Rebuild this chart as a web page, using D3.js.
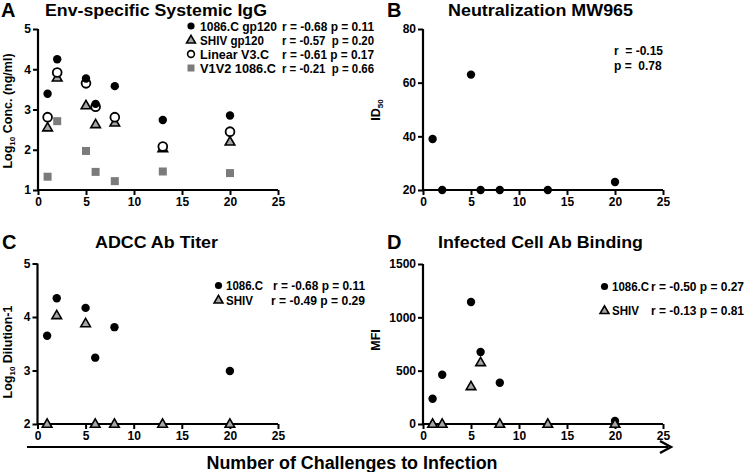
<!DOCTYPE html>
<html><head><meta charset="utf-8">
<script src="https://cdn.jsdelivr.net/npm/d3@7"></script>
<style>
body{margin:0;background:#fff;}
text{font-family:"Liberation Sans",Arial,sans-serif;font-weight:bold;fill:#000;}
</style></head>
<body><svg id="c" width="750" height="472"></svg>
<script>
// ---------- data ----------
const challenges = [1, 2, 5, 6, 8, 13, 20];
const xTicks = [0, 5, 10, 15, 20, 25];

// Panel A: Env-specific systemic IgG (log10 ng/ml)
const igg1086 = [3.39, 4.25, 3.77, 3.14, 3.58, 2.74, 2.85];
const iggShiv = [2.55, 3.79, 3.10, 2.63, 2.67, 2.03, 2.20];
const iggV3 = [2.81, 3.92, 3.65, 3.07, 2.81, 2.08, 2.45];
const iggV1V2 = [1.33, 2.71, 1.97, 1.45, 1.22, 1.46, 1.42];
const aTicks = [1, 2, 3, 4, 5];

// Panel B: Neutralization MW965 (ID50)
const neutMW965 = [39, 20, 63, 20, 20, 20, 23];
const bTicks = [20, 40, 60, 80];

// Panel C: ADCC Ab titer (log10 dilution-1)
const adcc1086 = [3.65, 4.35, 4.17, 3.24, 3.81, null, 2.99];
const adccShiv = [2, 4.03, 3.88, 2, 2, 2, 2];
const cTicks = [2, 3, 4, 5];

// Panel D: Infected cell Ab binding (MFI)
const mfi1086 = [237, 462, 1144, 675, 387, null, 28];
const mfiShiv = [0, 0, 353, 578, 0, 0, 0];
const dTicks = [0, 500, 1000, 1500];

// ---------- drawing ----------
const svg = d3.select("#c");
const greyFill = "#a6a6a6", squareFill = "#7b7b7b";
const FONT = '"Liberation Sans",Arial,sans-serif';

function panel(o) {
  const x = d3.scaleLinear().domain([0, 25]).range(o.xr);
  const y = d3.scaleLinear().domain(o.yd).range(o.yr);
  const g = svg.append("g");
  const ax = g.append("g").attr("transform", `translate(0,${o.yr[0]})`)
    .call(d3.axisBottom(x).tickValues(xTicks).tickFormat(d3.format("d")).tickSize(5).tickPadding(2));
  const ay = g.append("g").attr("transform", `translate(${o.xr[0]},0)`)
    .call(d3.axisLeft(y).tickValues(o.yt).tickFormat(d3.format("d")).tickSize(5).tickPadding(2));
  [ax, ay].forEach(a => {
    a.select(".domain").attr("stroke", "#000").attr("stroke-width", 2.2)
      .attr("d", a === ax ? `M${o.xr[0]},0H${o.xr[1]}` : `M0,${o.yr[0]}V${o.yr[1]}`);
    a.selectAll(".tick line").attr("stroke", "#000").attr("stroke-width", 2);
    a.selectAll(".tick text").attr("font-size", 12).attr("font-weight", "bold")
      .attr("font-family", FONT).attr("fill", "#000");
  });
  // letter, title
  g.append("text").attr("x", o.letterX).attr("y", o.titleY + 1).attr("font-size", 20).text(o.letter);
  g.append("text").attr("x", o.titleX).attr("y", o.titleY).attr("font-size", 17)
    .attr("text-anchor", "middle").attr("textLength", o.titleW).attr("lengthAdjust", "spacingAndGlyphs").text(o.title);
  // y label
  const yl = g.append("text").attr("transform", `translate(${o.ylX},${o.ylY}) rotate(-90)`)
    .attr("font-size", 12.5).attr("text-anchor", "middle");
  o.ylabel.forEach(p => {
    const t = yl.append("tspan").text(p.t);
    if (p.sub) t.attr("font-size", 8).attr("dy", 3);
    else if (p.after) t.attr("dy", -3);
  });
  return {g, x, y};
}

function circles(p, vals, fill, r) {
  p.g.append("g").selectAll("circle").data(challenges.map((c, i) => [c, vals[i]]).filter(d => d[1] != null))
    .join("circle").attr("cx", d => p.x(d[0])).attr("cy", d => p.y(d[1])).attr("r", r || 4.2)
    .attr("fill", fill).attr("stroke", "#000").attr("stroke-width", fill === "#fff" ? 1.8 : 0);
}
const triSym = d3.symbol().type(d3.symbolTriangle).size(40);
function triangles(p, vals) {
  p.g.append("g").selectAll("path").data(challenges.map((c, i) => [c, vals[i]]).filter(d => d[1] != null))
    .join("path").attr("d", triSym)
    .attr("transform", d => `translate(${p.x(d[0])},${p.y(d[1]) + 0.5})`)
    .attr("fill", greyFill).attr("stroke", "#000").attr("stroke-width", 1.6);
}
function squares(p, vals) {
  p.g.append("g").selectAll("rect").data(challenges.map((c, i) => [c, vals[i]]))
    .join("rect").attr("x", d => p.x(d[0]) - 4).attr("y", d => p.y(d[1]) - 4)
    .attr("width", 8).attr("height", 8).attr("fill", squareFill);
}
function legendText(g, x, y, s, w) {
  const t = g.append("text").attr("x", x).attr("y", y).attr("font-size", 12)
    .attr("xml:space", "preserve").style("white-space", "pre").text(s);
  if (w) t.attr("textLength", w).attr("lengthAdjust", "spacingAndGlyphs");
}
function legTri(g, x, y) {
  g.append("path").attr("d", d3.symbol().type(d3.symbolTriangle).size(34)).attr("transform", `translate(${x},${y})`)
    .attr("fill", greyFill).attr("stroke", "#000").attr("stroke-width", 1.6);
}

// Panel A
const pA = panel({xr: [38, 278], yr: [190, 29], yd: [1, 5], yt: aTicks, letter: "A", letterX: 1, titleX: 156, titleY: 16, titleW: 222,
  title: "Env-specific Systemic IgG", ylX: 12, ylY: 111,
  ylabel: [{t: "Log"}, {t: "10", sub: true}, {t: " Conc. (ng/ml)", after: true}]});
squares(pA, iggV1V2);
triangles(pA, iggShiv);
circles(pA, iggV3, "#fff", 4.4);
circles(pA, igg1086, "#000");
{
  const g = pA.g, mx = 191, rows = [26, 40, 54, 68];
  g.append("circle").attr("cx", mx).attr("cy", rows[0]).attr("r", 3.6).attr("fill", "#000");
  legTri(g, mx, rows[1] + 0.5);
  g.append("circle").attr("cx", mx).attr("cy", rows[2]).attr("r", 3.4).attr("fill", "#fff").attr("stroke", "#000").attr("stroke-width", 1.6);
  g.append("rect").attr("x", mx - 3.5).attr("y", rows[3] - 3.5).attr("width", 7).attr("height", 7).attr("fill", squareFill);
  const names = ["1086.C gp120", "SHIV gp120", "Linear V3.C", "V1V2 1086.C"];
  const nameW = [77, 64, 69, 76];
  const stats = ["r = -0.68 p = 0.11", "r = -0.57  p = 0.20", "r = -0.61 p = 0.17", "r = -0.21  p = 0.66"];
  names.forEach((n, i) => { legendText(g, 200, rows[i] + 4.5, n, nameW[i]); legendText(g, 282, rows[i] + 4.5, stats[i], 92); });
}

// Panel B
const pB = panel({xr: [423, 663], yr: [190, 29], yd: [20, 80], yt: bTicks, letter: "B", letterX: 387, titleX: 540.5, titleY: 16, titleW: 185,
  title: "Neutralization MW965", ylX: 380, ylY: 110,
  ylabel: [{t: "ID"}, {t: "50", sub: true}]});
circles(pB, neutMW965, "#000");
legendText(pB.g, 614, 55, "r  = -0.15");
legendText(pB.g, 614, 70, "p =  0.78");

// Panel C
const pC = panel({xr: [37.5, 278], yr: [424, 263.5], yd: [2, 5], yt: cTicks, letter: "C", letterX: 2, titleX: 156.5, titleY: 248, titleW: 123,
  title: "ADCC Ab Titer", ylX: 12, ylY: 352,
  ylabel: [{t: "Log"}, {t: "10", sub: true}, {t: " Dilution-1", after: true}]});
triangles(pC, adccShiv);
circles(pC, adcc1086, "#000");
{
  const g = pC.g;
  g.append("circle").attr("cx", 218.5).attr("cy", 285.5).attr("r", 3.6).attr("fill", "#000");
  legTri(g, 218.5, 300.5);
  legendText(g, 226, 290, "1086.C", 37);
  legendText(g, 273, 290, "r = -0.68 p = 0.11", 92);
  legendText(g, 226, 305, "SHIV", 27);
  legendText(g, 271, 305, "r = -0.49 p = 0.29", 94);
}

// Panel D
const pD = panel({xr: [423, 663], yr: [424, 264], yd: [0, 1500], yt: dTicks, letter: "D", letterX: 387, titleX: 540.5, titleY: 248, titleW: 205,
  title: "Infected Cell Ab Binding", ylX: 380, ylY: 340,
  ylabel: [{t: "MFI"}]});
circles(pD, mfi1086, "#000");
triangles(pD, mfiShiv);
{
  const g = pD.g;
  g.append("circle").attr("cx", 604.5).attr("cy", 286.5).attr("r", 3.6).attr("fill", "#000");
  legTri(g, 604.5, 311);
  legendText(g, 612, 291, "1086.C", 37);
  legendText(g, 651, 291, "r = -0.50 p = 0.27", 93);
  legendText(g, 612, 315, "SHIV", 27);
  legendText(g, 651, 315, "r = -0.13 p = 0.81", 93);
}

// shared x-axis arrow + title
svg.append("line").attr("x1", 27).attr("x2", 668).attr("y1", 447).attr("y2", 447)
  .attr("stroke", "#000").attr("stroke-width", 2.2);
svg.append("path").attr("d", "M660,441 L671,447 L660,453").attr("fill", "none")
  .attr("stroke", "#000").attr("stroke-width", 2.4);
svg.append("text").attr("x", 352).attr("y", 469).attr("font-size", 18).attr("text-anchor", "middle")
  .attr("textLength", 291).attr("lengthAdjust", "spacingAndGlyphs")
  .text("Number of Challenges to Infection");
</script></body></html>
